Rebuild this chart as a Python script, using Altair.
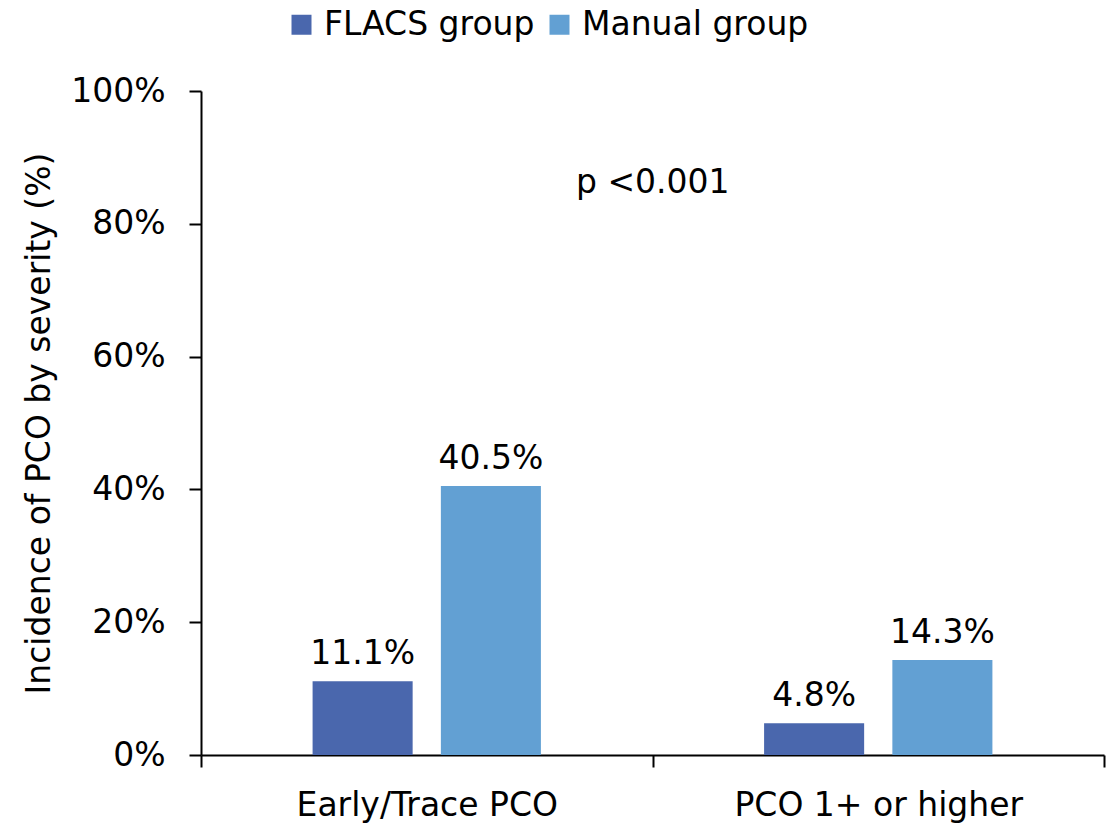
import altair as alt
import pandas as pd

categories = ["Early/Trace PCO", "PCO 1+ or higher"]
groups = ["FLACS group", "Manual group"]
flacs_values = [11.1, 4.8]
manual_values = [40.5, 14.3]
colors = ["#4a67ad", "#62a0d3"]
y_ticks = [0, 20, 40, 60, 80, 100]
annotation = "p <0.001"

rows = []
for i, c in enumerate(categories):
    rows.append({"category": c, "group": groups[0], "value": flacs_values[i]})
    rows.append({"category": c, "group": groups[1], "value": manual_values[i]})
df = pd.DataFrame(rows)

FONT = "DejaVu Sans"
FS = 33

x_enc = alt.X("category:N", sort=categories, title=None,
              scale=alt.Scale(paddingInner=0, paddingOuter=0),
              axis=alt.Axis(labelAngle=0, tickBand="extent", tickSize=12, tickWidth=2,
                            domainWidth=2, domainColor="black", tickColor="black",
                            labelFontSize=FS, labelFont=FONT, labelColor="black",
                            labelPadding=22, labelLimit=0))
xoff = alt.XOffset("group:N", sort=groups,
                   scale=alt.Scale(paddingInner=0.22, paddingOuter=0.87))

base = alt.Chart(df)

bars = base.mark_bar().encode(
    x=x_enc,
    xOffset=xoff,
    y=alt.Y("value:Q", title="Incidence of PCO by severity (%)",
            scale=alt.Scale(domain=[0, 100]),
            axis=alt.Axis(values=y_ticks, labelExpr="datum.value + '%'", grid=False,
                          tickSize=12, tickWidth=2, domainWidth=2,
                          domainColor="black", tickColor="black",
                          labelFontSize=FS, labelFont=FONT, labelColor="black",
                          labelPadding=24, labelLimit=0, titleFontSize=FS, titleFont=FONT,
                          titleFontWeight="normal", titleColor="black",
                          titlePadding=14)),
    color=alt.Color("group:N", sort=groups,
                    scale=alt.Scale(domain=groups, range=colors),
                    legend=alt.Legend(title=None, orient="none", direction="horizontal",
                                      legendX=84, legendY=-83,
                                      symbolType="square", symbolSize=400,
                                      symbolStrokeWidth=0,
                                      labelFontSize=FS, labelFont=FONT,
                                      labelColor="black", columnPadding=8,
                                      labelOffset=6, labelLimit=0)),
)

labels = base.transform_calculate(
    lbl="format(datum.value, '.1f') + '%'"
).mark_text(fontSize=FS, font=FONT, color="black", baseline="alphabetic",
            dy=-17).encode(
    x=alt.X("category:N", sort=categories),
    xOffset=xoff,
    y=alt.Y("value:Q"),
    text="lbl:N",
)

ann = alt.Chart(pd.DataFrame({"t": [annotation]})).mark_text(
    fontSize=FS, font=FONT, color="black", align="left", baseline="middle"
).encode(x=alt.value(375), y=alt.value(92), text="t:N")

chart = alt.layer(bars, labels, ann).properties(
    width=903, height=664,
    autosize=alt.AutoSizeParams(type="none"),
    padding={"left": 201, "top": 91, "right": 10, "bottom": 71},
).configure(font=FONT).configure_view(stroke=None)

chart.save("out.html", embed_options={"renderer": "svg", "actions": False})
